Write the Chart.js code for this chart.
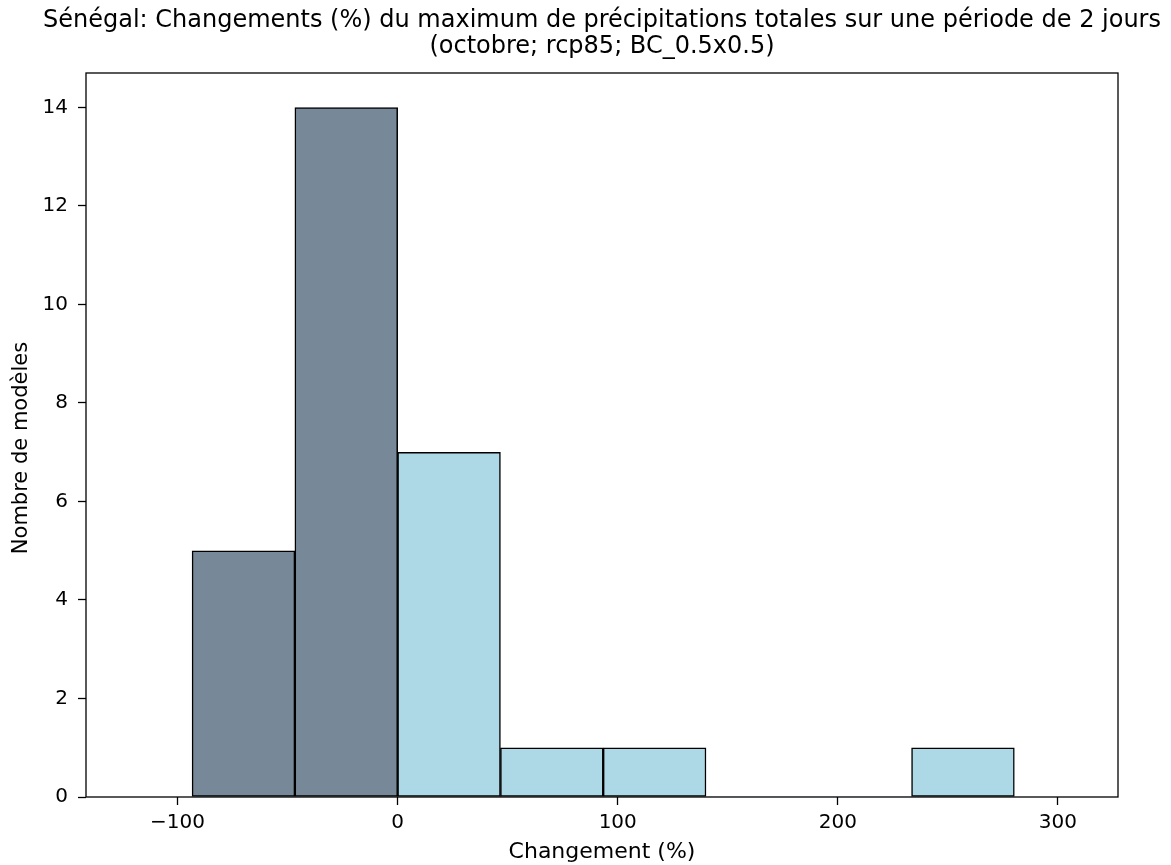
<!DOCTYPE html>
<html>
<head>
<meta charset="utf-8">
<script src="https://cdn.jsdelivr.net/npm/chart.js@4/dist/chart.umd.min.js"></script>
<style>
  body { margin: 0; background: #fff; }
  #wrap { width: 1171px; height: 865px; }
</style>
</head>
<body>
<div id="wrap"><canvas id="histChart" width="1171" height="865"></canvas></div>
<script>
const titleLines = [
  'Sénégal: Changements (%) du maximum de précipitations totales sur une période de 2 jours',
  '(octobre; rcp85; BC_0.5x0.5)'
];
const yLabel = 'Nombre de modèles';
const binEdges = [-93.4, -46.7, 0, 46.7, 93.4, 140.1, 186.8, 233.5, 280.2];
const modelCounts = [5, 14, 7, 1, 1, 0, 0, 1];
const xTickValues = [-100, 0, 100, 200, 300];
const yTickValues = [0, 2, 4, 6, 8, 10, 12, 14];

const negColor = '#778899';
const posColor = '#add8e6';
const fontFamily = '"DejaVu Sans", sans-serif';

// one bar per bin, placed at the bin centre on a linear x scale
const points = modelCounts.map((c, i) => ({ x: (binEdges[i] + binEdges[i + 1]) / 2, y: c }));
const barColors = modelCounts.map((c, i) => (binEdges[i] < 0 ? negColor : posColor));

const frameAndTitle = {
  id: 'frameAndTitle',
  afterDatasetsDraw(chart) {
    const { ctx, chartArea } = chart;
    ctx.save();
    ctx.strokeStyle = '#000';
    ctx.lineWidth = 1.3;
    ctx.strokeRect(chartArea.left, chartArea.top, chartArea.right - chartArea.left, chartArea.bottom - chartArea.top);
    ctx.restore();
  },
  afterDraw(chart) {
    const { ctx, chartArea } = chart;
    const cx = (chartArea.left + chartArea.right) / 2;
    ctx.save();
    ctx.fillStyle = '#000';
    ctx.font = '24px ' + fontFamily;
    ctx.textAlign = 'center';
    ctx.textBaseline = 'middle';
    ctx.fillText(titleLines[0], cx, 21);
    ctx.fillText(titleLines[1], cx, 47);
    // y axis label, sits a little below the axes centre in the original
    ctx.font = '21px ' + fontFamily;
    ctx.translate(22, (chartArea.top + chartArea.bottom) / 2 + 13);
    ctx.rotate(-Math.PI / 2);
    ctx.fillText(yLabel, 0, 0);
    ctx.restore();
  }
};

const tickStyle = {
  display: true,
  drawOnChartArea: false,
  drawTicks: true,
  tickLength: 8,
  tickWidth: 1.3,
  tickColor: '#000',
  offset: false
};

new Chart(document.getElementById('histChart'), {
  type: 'bar',
  data: {
    datasets: [{
      data: points,
      backgroundColor: barColors,
      borderColor: '#000',
      borderWidth: (ctx) => (ctx.raw && ctx.raw.y > 0 ? 1.5 : 0),
      borderSkipped: false,
      barPercentage: 1,
      categoryPercentage: 1
    }]
  },
  options: {
    responsive: false,
    animation: false,
    devicePixelRatio: 1,
    layout: { padding: { top: 73, right: 53, left: 0, bottom: 0 } },
    plugins: {
      legend: { display: false },
      tooltip: { enabled: false },
      title: { display: false }
    },
    scales: {
      x: {
        type: 'linear',
        min: -141.6,
        max: 327.3,
        offset: false,
        grid: tickStyle,
        border: { display: false },
        afterBuildTicks: (axis) => { axis.ticks = xTickValues.map(v => ({ value: v })); },
        afterFit: (scale) => { scale.height = 68; },
        ticks: {
          color: '#000',
          padding: 6,
          maxRotation: 0,
          font: { family: fontFamily, size: 20 },
          callback: (v) => (v < 0 ? '\u2212' + Math.abs(v) : String(v))
        },
        title: {
          display: true,
          text: 'Changement (%)',
          color: '#000',
          padding: { top: 0, bottom: 0 },
          font: { family: fontFamily, size: 22 }
        }
      },
      y: {
        min: 0,
        max: 14.7,
        grid: tickStyle,
        border: { display: false },
        afterBuildTicks: (axis) => { axis.ticks = yTickValues.map(v => ({ value: v })); },
        afterFit: (scale) => { scale.width = 86; },
        ticks: {
          color: '#000',
          padding: 10,
          font: { family: fontFamily, size: 20 }
        }
      }
    }
  },
  plugins: [frameAndTitle]
});
</script>
</body>
</html>
